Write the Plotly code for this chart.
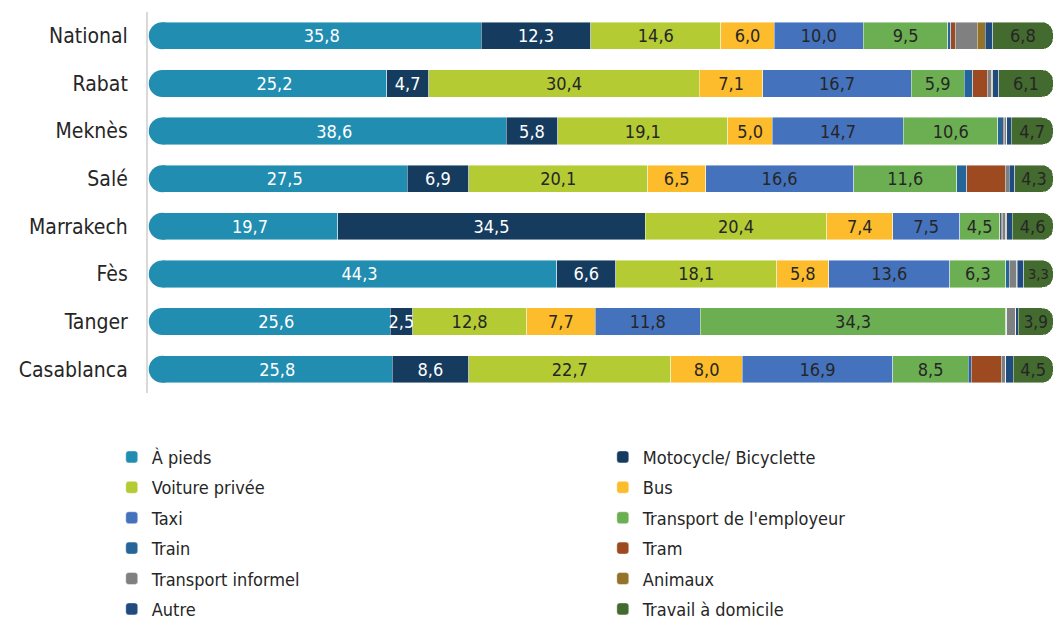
import plotly.graph_objects as go

regions = ["National", "Rabat", "Meknès", "Salé", "Marrakech", "Fès", "Tanger", "Casablanca"]

a_pieds = [35.8, 25.2, 38.6, 27.5, 19.7, 44.3, 25.6, 25.8]
moto_velo = [12.3, 4.7, 5.8, 6.9, 34.5, 6.6, 2.5, 8.6]
voiture = [14.6, 30.4, 19.1, 20.1, 20.4, 18.1, 12.8, 22.7]
bus = [6.0, 7.1, 5.0, 6.5, 7.4, 5.8, 7.7, 8.0]
taxi = [10.0, 16.7, 14.7, 16.6, 7.5, 13.6, 11.8, 16.9]
employeur = [9.5, 5.9, 10.6, 11.6, 4.5, 6.3, 34.3, 8.5]
train = [0.3, 1.0, 0.6, 1.1, 0.2, 0.4, 0.1, 0.3]
tram = [0.5, 1.6, 0.1, 4.3, 0.1, 0.0, 0.0, 3.4]
informel = [2.5, 0.5, 0.3, 0.5, 0.4, 0.8, 1.0, 0.5]
animaux = [0.9, 0.1, 0.0, 0.0, 0.1, 0.1, 0.0, 0.0]
autre = [0.8, 0.7, 0.5, 0.6, 0.6, 0.7, 0.3, 0.8]
domicile = [6.8, 6.1, 4.7, 4.3, 4.6, 3.3, 3.9, 4.5]

# (name, values, colour, text colour or None, legend column)
series = [
    ("À pieds", a_pieds, "#218db1", "white", "legend"),
    ("Motocycle/ Bicyclette", moto_velo, "#153b5e", "white", "legend2"),
    ("Voiture privée", voiture, "#b4cb34", "#262626", "legend"),
    ("Bus", bus, "#fdbc2b", "#262626", "legend2"),
    ("Taxi", taxi, "#4472bd", "#262626", "legend"),
    ("Transport de l'employeur", employeur, "#6caf52", "#262626", "legend2"),
    ("Train", train, "#256599", None, "legend"),
    ("Tram", tram, "#9e4a21", None, "legend2"),
    ("Transport informel", informel, "#808080", None, "legend"),
    ("Animaux", animaux, "#93722a", None, "legend2"),
    ("Autre", autre, "#1f4b7e", None, "legend"),
    ("Travail à domicile", domicile, "#436a2f", "#262626", "legend2"),
]

FONT = "Liberation Sans Narrow, DejaVu Sans Condensed, Arial Narrow, sans-serif"

fig = go.Figure()

for name, values, color, txt_color, leg in series:
    show_text = txt_color is not None
    fig.add_trace(
        go.Bar(
            name=name,
            y=regions,
            x=values,
            orientation="h",
            marker=dict(color=color, line=dict(width=0.8, color="rgba(255,255,255,0.55)")),
            text=[f"{v:.1f}".replace(".", ",") for v in values] if show_text else None,
            textposition="inside" if show_text else "none",
            insidetextanchor="middle",
            textangle=0,
            constraintext="none",
            textfont=dict(family=FONT, size=18, color=txt_color or "#262626"),
            legend=leg,
            legendgroup=name,
            hovertemplate=name + "<br>%{y}: %{x:.1f}%<extra></extra>",
        )
    )

# rounded left end of each bar
fig.add_trace(
    go.Scatter(
        x=[0] * len(regions),
        y=regions,
        mode="markers",
        marker=dict(symbol="circle", size=27, color=series[0][2], line=dict(width=0)),
        cliponaxis=False,
        showlegend=False,
        legendgroup="À pieds",
        hoverinfo="skip",
    )
)

legend_style = dict(
    orientation="v",
    yanchor="top",
    y=-0.12,
    xanchor="left",
    font=dict(family=FONT, size=18, color="#262626"),
    tracegroupgap=4,
    bgcolor="rgba(0,0,0,0)",
)

# the page body adds an 8px margin, so keep the figure inside the window
fig.update_layout(
    width=1046,
    height=613,
    barmode="stack",
    bargap=0.43,
    barcornerradius=11,
    margin=dict(l=140, r=0, t=4, b=228, autoexpand=False),
    plot_bgcolor="white",
    paper_bgcolor="white",
    showlegend=True,
    legend=dict(x=-0.04, **legend_style),
    legend2=dict(x=0.502, **legend_style),
)
fig.update_xaxes(range=[-1.6, 100.1], visible=False, fixedrange=True)
fig.update_yaxes(
    range=[len(regions) - 0.5, -0.5],
    showline=True,
    linecolor="#d9d9d9",
    linewidth=2,
    ticks="",
    ticklabelstandoff=14,
    tickfont=dict(family=FONT, size=21, color="#262626"),
    showgrid=False,
    fixedrange=True,
)

fig.write_html("out.html")
